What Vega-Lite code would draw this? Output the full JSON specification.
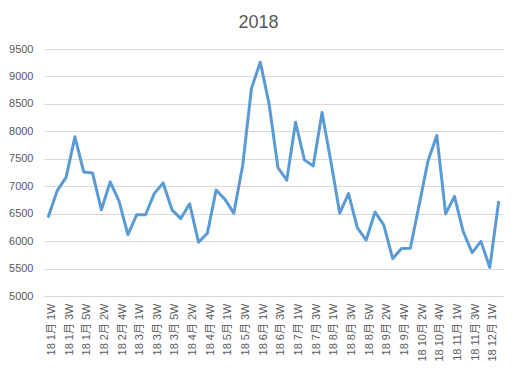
{
  "$schema": "https://vega.github.io/schema/vega-lite/v6.json",
  "width": 459,
  "height": 247,
  "autosize": {"type": "none"},
  "padding": {"left": 44, "top": 49, "right": 15, "bottom": 72},
  "background": "white",
  "title": {
    "text": "2018",
    "font": "Liberation Sans",
    "fontSize": 18,
    "fontWeight": "normal",
    "color": "#595959",
    "anchor": "middle",
    "frame": "group",
    "dx": -15,
    "dy": 18,
    "baseline": "alphabetic",
    "offset": 15
  },
  "data": {
    "values": [
      {"week": "18 1月 1W", "value": 6450},
      {"week": "18 1月 2W", "value": 6920},
      {"week": "18 1月 3W", "value": 7160},
      {"week": "18 1月 4W", "value": 7900},
      {"week": "18 1月 5W", "value": 7260},
      {"week": "18 2月 1W", "value": 7240},
      {"week": "18 2月 2W", "value": 6570},
      {"week": "18 2月 3W", "value": 7080},
      {"week": "18 2月 4W", "value": 6730},
      {"week": "18 2月 5W", "value": 6120},
      {"week": "18 3月 1W", "value": 6480},
      {"week": "18 3月 2W", "value": 6480},
      {"week": "18 3月 3W", "value": 6870},
      {"week": "18 3月 4W", "value": 7060},
      {"week": "18 3月 5W", "value": 6570},
      {"week": "18 4月 1W", "value": 6410},
      {"week": "18 4月 2W", "value": 6680},
      {"week": "18 4月 3W", "value": 5980},
      {"week": "18 4月 4W", "value": 6140},
      {"week": "18 4月 5W", "value": 6930},
      {"week": "18 5月 1W", "value": 6760},
      {"week": "18 5月 2W", "value": 6510},
      {"week": "18 5月 3W", "value": 7370},
      {"week": "18 5月 4W", "value": 8780},
      {"week": "18 6月 1W", "value": 9260},
      {"week": "18 6月 2W", "value": 8500},
      {"week": "18 6月 3W", "value": 7340},
      {"week": "18 6月 4W", "value": 7110},
      {"week": "18 7月 1W", "value": 8165},
      {"week": "18 7月 2W", "value": 7480},
      {"week": "18 7月 3W", "value": 7370},
      {"week": "18 7月 4W", "value": 8345},
      {"week": "18 8月 1W", "value": 7450},
      {"week": "18 8月 2W", "value": 6510},
      {"week": "18 8月 3W", "value": 6865},
      {"week": "18 8月 4W", "value": 6240},
      {"week": "18 8月 5W", "value": 6020},
      {"week": "18 9月 1W", "value": 6530},
      {"week": "18 9月 2W", "value": 6290},
      {"week": "18 9月 3W", "value": 5680},
      {"week": "18 9月 4W", "value": 5865},
      {"week": "18 10月 1W", "value": 5870},
      {"week": "18 10月 2W", "value": 6660},
      {"week": "18 10月 3W", "value": 7460},
      {"week": "18 10月 4W", "value": 7925},
      {"week": "18 10月 5W", "value": 6495},
      {"week": "18 11月 1W", "value": 6815},
      {"week": "18 11月 2W", "value": 6170},
      {"week": "18 11月 3W", "value": 5790},
      {"week": "18 11月 4W", "value": 5995},
      {"week": "18 12月 1W", "value": 5520},
      {"week": "18 12月 2W", "value": 6710}
    ]
  },
  "mark": {"type": "line", "color": "#5B9BD5", "strokeWidth": 3, "strokeJoin": "round", "strokeCap": "round"},
  "encoding": {
    "x": {
      "field": "week",
      "type": "ordinal",
      "sort": null,
      "title": null,
      "scale": {"type": "point", "padding": 0.5},
      "axis": {
        "values": ["18 1月 1W", "18 1月 3W", "18 1月 5W", "18 2月 2W", "18 2月 4W", "18 3月 1W", "18 3月 3W", "18 3月 5W", "18 4月 2W", "18 4月 4W", "18 5月 1W", "18 5月 3W", "18 6月 1W", "18 6月 3W", "18 7月 1W", "18 7月 3W", "18 8月 1W", "18 8月 3W", "18 8月 5W", "18 9月 2W", "18 9月 4W", "18 10月 2W", "18 10月 4W", "18 11月 1W", "18 11月 3W", "18 12月 1W"],
        "labelAngle": -90,
        "labelFont": "Liberation Sans, Noto Sans CJK JP",
        "labelFontSize": 11,
        "labelColor": "#595959",
        "labelPadding": 7,
        "labelOffset": 3,
        "labelOverlap": false,
        "ticks": false,
        "grid": false,
        "domainColor": "#d9d9d9",
        "domainWidth": 1
      }
    },
    "y": {
      "field": "value",
      "type": "quantitative",
      "title": null,
      "scale": {"domain": [5000, 9500], "nice": false, "zero": false},
      "axis": {
        "values": [5000, 5500, 6000, 6500, 7000, 7500, 8000, 8500, 9000, 9500],
        "format": "d",
        "labelFont": "Liberation Sans",
        "labelFontSize": 11,
        "labelColor": "#595959",
        "labelPadding": 11,
        "ticks": false,
        "domain": false,
        "grid": true,
        "gridColor": "#d9d9d9",
        "gridWidth": 1
      }
    }
  },
  "config": {"view": {"stroke": null}}
}
